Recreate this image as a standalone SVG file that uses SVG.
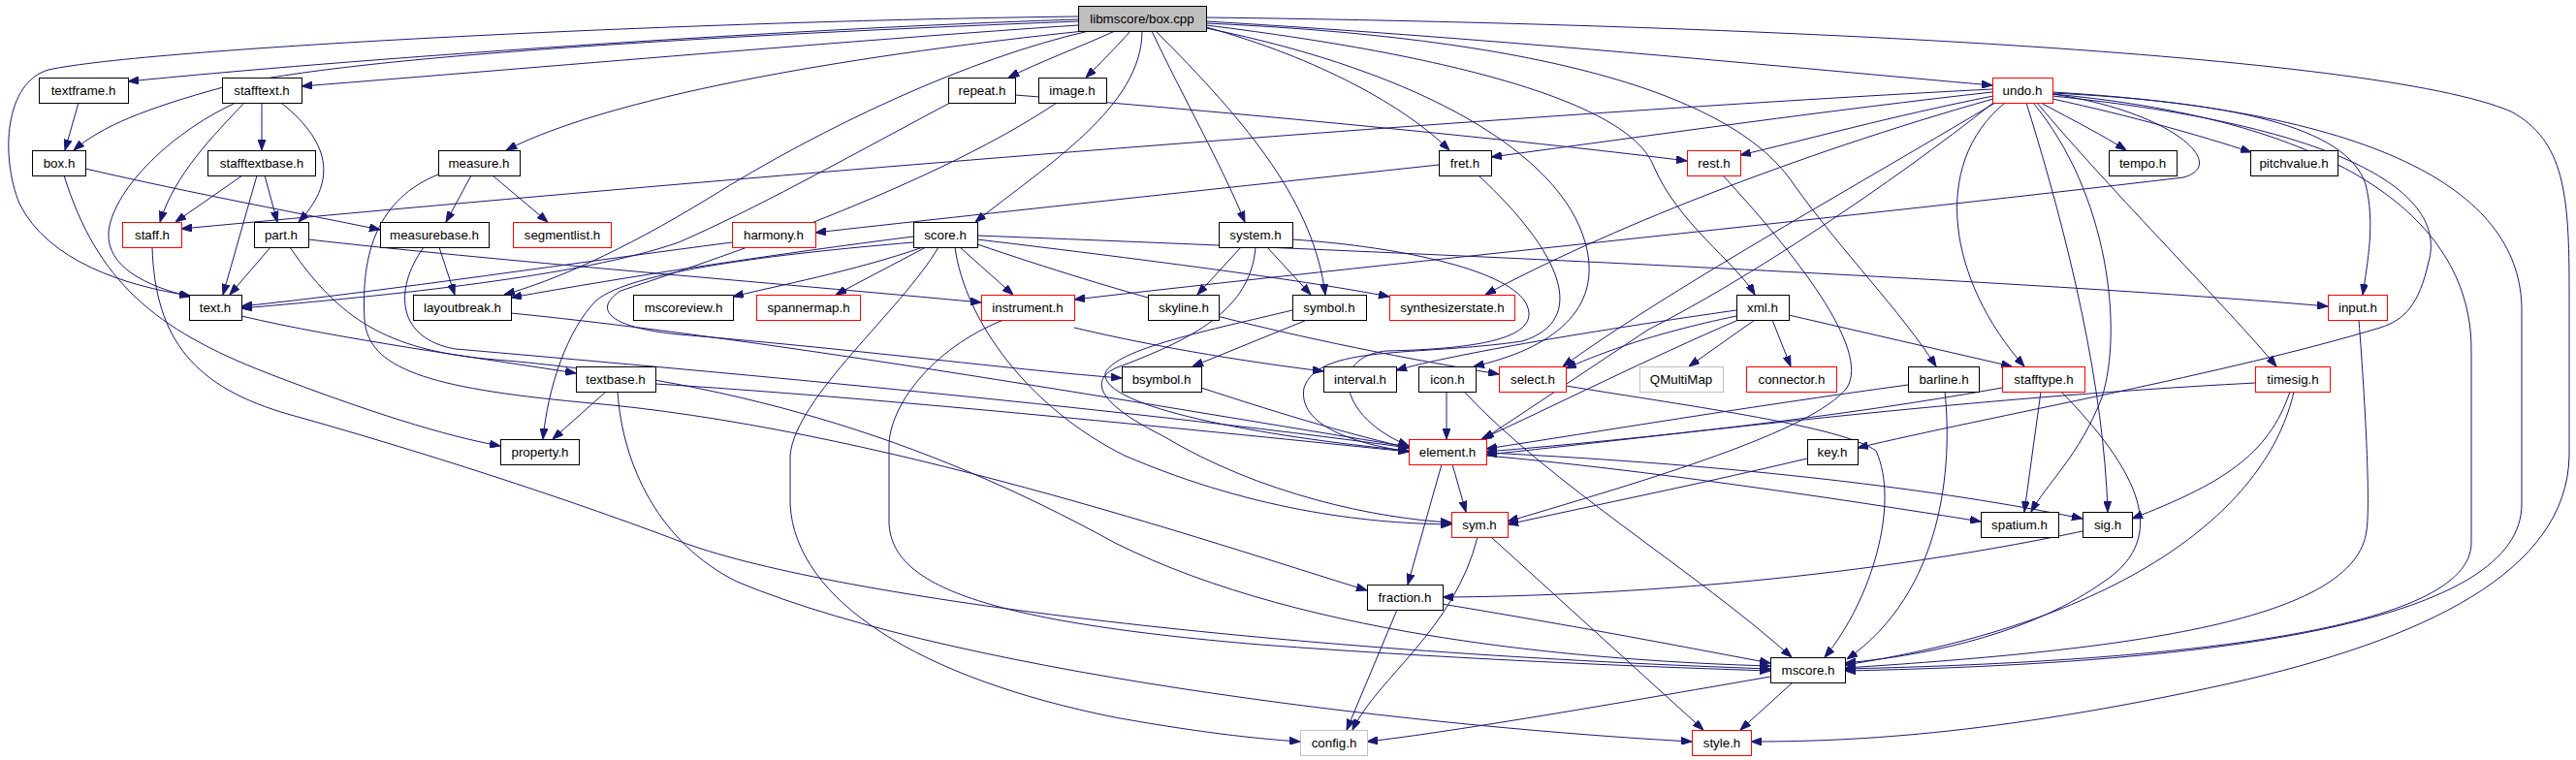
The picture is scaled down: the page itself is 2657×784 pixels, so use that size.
<svg xmlns="http://www.w3.org/2000/svg" width="2657" height="784" viewBox="0 0 2657 784">
<style>
.n rect{fill:#fff;stroke:#000;stroke-width:1}
.n.r rect{stroke:#ff0000}
.n.g rect{stroke:#bfbfbf}
.n.root rect{fill:#bfbfbf}
.n text{font-family:"Liberation Sans",Arial,sans-serif;font-size:13.33px;text-anchor:middle;fill:#000}
#edges path{fill:none;stroke:#191970;stroke-width:1;marker-end:url(#a)}
</style>
<defs>
<marker id="a" viewBox="0 0 11 8" refX="11" refY="4" markerWidth="11" markerHeight="8" markerUnits="userSpaceOnUse" orient="auto">
<path d="M0,0 L11,4 L0,8 z" fill="#191970" stroke="#191970"/>
</marker>
</defs>
<rect width="2657" height="784" fill="#fff"/>
<g id="edges">
<path d="M1112,17 C700,22 150,50 50,72 C5,85 0,160 20,210 C50,270 130,295 196,305"/>
<path d="M1112,20 C800,30 350,62 132,84"/>
<path d="M1112,22 C700,38 350,60 230,90 C150,112 105,130 76,155"/>
<path d="M1112,26 C900,40 550,70 311,89"/>
<path d="M1118,32 C900,55 640,95 522,155"/>
<path d="M1123,32 C1000,60 850,130 730,205 C640,260 570,290 520,304"/>
<path d="M1150,32 C1110,50 1070,65 1040,80"/>
<path d="M1166,32 C1150,50 1135,65 1120,80"/>
<path d="M1178,32 C1178,110 1080,170 1006,229"/>
<path d="M1188,32 C1220,100 1260,170 1284,229"/>
<path d="M1192,32 C1290,130 1355,210 1367,304"/>
<path d="M1244,28 C1360,60 1450,110 1495,155"/>
<path d="M1244,26 C1520,60 1680,110 1705,170 C1730,230 1790,270 1810,304"/>
<path d="M1244,29 C1470,75 1610,160 1635,250 C1655,320 1600,360 1520,378"/>
<path d="M1244,24 C1600,40 1790,100 1850,190 C1900,260 1960,320 1997,378"/>
<path d="M1244,22 C1550,40 1850,70 2055,88"/>
<path d="M1244,18 C1800,25 2450,55 2590,115 C2645,145 2650,200 2650,300 L2650,470 C2648,590 2500,660 2300,705 C2050,760 1900,765 1806,765"/>
<path d="M2055,95 C1900,112 1700,140 1538,162"/>
<path d="M2056,99 C1950,120 1860,145 1795,160"/>
<path d="M2055,92 C1700,110 1000,160 187,236"/>
<path d="M2105,106 C2140,125 2170,140 2193,155"/>
<path d="M2117,102 C2200,120 2270,140 2322,157"/>
<path d="M2056,102 C1850,160 1650,240 1532,304"/>
<path d="M2058,106 C1900,200 1720,300 1612,378"/>
<path d="M2117,97 C2240,115 2300,170 2252,183 C1900,225 1400,275 1108,309"/>
<path d="M2068,106 C1990,170 2010,290 2088,378"/>
<path d="M2090,106 C2135,250 2170,400 2174,528"/>
<path d="M2097,106 C2175,200 2190,340 2168,410 C2145,470 2110,500 2095,528"/>
<path d="M2101,106 C2180,200 2300,320 2348,378"/>
<path d="M2117,96 C2300,105 2420,130 2440,190 C2450,230 2442,270 2437,304"/>
<path d="M2117,99 C2420,130 2525,200 2505,270 C2495,315 2480,330 2455,338 C2300,385 2050,430 1916,462"/>
<path d="M2117,97 C2420,125 2549,230 2549,360 L2549,560 C2549,650 2250,682 1903,690"/>
<path d="M2117,95 C2460,115 2601,200 2601,320 L2601,520 C2601,640 2300,684 1903,692"/>
<path d="M2056,106 C1950,190 1800,290 1700,340 C1640,380 1580,420 1530,453"/>
<path d="M81,106 L67,155"/>
<path d="M270,106 L270,155"/>
<path d="M252,106 C220,140 180,180 165,229"/>
<path d="M243,106 C170,140 115,200 112,240 C110,275 150,295 196,306"/>
<path d="M290,106 C345,150 345,190 308,229"/>
<path d="M250,181 L181,229"/>
<path d="M273,181 L286,229"/>
<path d="M265,181 L230,304"/>
<path d="M88,174 C200,200 320,222 392,237"/>
<path d="M66,181 C100,290 160,340 276,385 C380,425 460,450 516,460"/>
<path d="M486,181 L460,229"/>
<path d="M508,181 L565,229"/>
<path d="M452,180 C390,205 372,260 376,330 C380,380 440,400 600,415 C900,440 1250,560 1410,609"/>
<path d="M1484,170 C1300,190 1000,222 841,240"/>
<path d="M1525,181 C1610,260 1640,330 1570,352 C1460,368 1360,355 1345,400 C1338,440 1400,458 1453,466"/>
<path d="M1777,181 C1850,260 1930,360 1905,400 C1870,445 1700,495 1555,538"/>
<path d="M1047,98 C1300,118 1600,148 1740,166"/>
<path d="M980,106 C860,170 780,215 700,250 C600,285 400,305 249,318"/>
<path d="M157,255 C160,350 200,400 300,428 C450,470 600,520 700,558 C850,615 1300,672 1826,690"/>
<path d="M279,255 L237,304"/>
<path d="M318,247 C500,268 800,292 1012,312"/>
<path d="M299,255 C350,330 400,360 500,370 C750,390 950,450 1150,560 C1350,660 1650,682 1826,687"/>
<path d="M453,255 L469,304"/>
<path d="M437,255 C405,300 410,350 470,360 C700,380 1150,420 1453,462"/>
<path d="M755,250 C600,270 400,300 249,316"/>
<path d="M952,255 C880,280 800,295 756,306"/>
<path d="M955,255 L862,304"/>
<path d="M990,255 L1045,304"/>
<path d="M1008,247 C1200,270 1350,290 1433,306"/>
<path d="M1008,252 C1150,300 1300,345 1546,386"/>
<path d="M1008,243 C1500,262 2100,290 2401,316"/>
<path d="M942,244 C800,262 650,285 527,307"/>
<path d="M942,250 C800,262 650,280 615,310 C585,340 565,400 560,453"/>
<path d="M985,255 C995,330 1060,420 1160,470 C1300,530 1420,540 1497,541"/>
<path d="M968,255 C930,320 820,410 815,470 L815,520 C820,620 950,700 1150,740 C1250,758 1310,763 1341,765"/>
<path d="M1090,106 C950,200 700,280 640,300 C610,320 630,338 700,345 C900,362 1050,382 1157,390"/>
<path d="M1280,255 L1235,304"/>
<path d="M1307,255 L1352,304"/>
<path d="M1295,255 C1290,320 1230,350 1150,380 C1120,395 1140,420 1200,450 C1300,510 1420,535 1497,539"/>
<path d="M1333,247 C1450,255 1560,280 1575,315 C1590,350 1520,360 1430,362 C1370,368 1380,430 1453,460"/>
<path d="M249,326 C350,350 500,370 594,385"/>
<path d="M625,404 L570,453"/>
<path d="M676,396 C900,410 1200,440 1453,466"/>
<path d="M637,404 C642,480 680,560 760,600 C1000,700 1500,752 1745,765"/>
<path d="M1108,338 C1200,360 1300,375 1365,383"/>
<path d="M1035,330 C960,360 917,420 917,460 L917,540 C920,600 1000,640 1300,665 C1500,680 1700,688 1826,692"/>
<path d="M1348,330 L1230,378"/>
<path d="M1333,320 C1250,340 1150,360 1140,385 C1135,420 1300,450 1453,465"/>
<path d="M1239,400 C1330,430 1400,450 1453,462"/>
<path d="M527,323 C800,350 1200,420 1453,461"/>
<path d="M1791,320 C1650,340 1500,365 1440,382"/>
<path d="M1791,326 C1700,345 1650,365 1615,380"/>
<path d="M1810,330 L1742,378"/>
<path d="M1828,330 L1847,378"/>
<path d="M1845,325 L2075,378"/>
<path d="M1793,330 C1700,370 1600,420 1528,453"/>
<path d="M1492,404 L1492,453"/>
<path d="M1510,404 C1600,500 1750,590 1848,678"/>
<path d="M1615,398 C1750,420 1900,440 1935,465 C1960,520 1930,620 1882,678"/>
<path d="M1968,397 C1800,420 1650,445 1533,463"/>
<path d="M2006,404 C2014,480 2005,610 1905,680"/>
<path d="M2065,400 C1900,430 1700,452 1533,466"/>
<path d="M2105,404 L2088,528"/>
<path d="M2126,404 C2220,500 2230,560 2170,600 C2100,650 2000,675 1903,684"/>
<path d="M2326,395 C2000,412 1700,452 1533,469"/>
<path d="M2362,404 C2340,470 2290,500 2199,535"/>
<path d="M2366,404 C2340,520 2200,640 1903,686"/>
<path d="M2433,330 C2440,420 2445,520 2441,547 C2430,640 2200,670 1903,689"/>
<path d="M1498,479 L1512,528"/>
<path d="M1487,479 L1452,603"/>
<path d="M1533,470 C1700,485 1900,515 2043,538"/>
<path d="M1533,467 C1800,480 2000,505 2148,535"/>
<path d="M1864,473 C1750,500 1650,520 1555,541"/>
<path d="M1524,554 C1500,650 1420,700 1395,753"/>
<path d="M1538,554 L1757,753"/>
<path d="M2148,548 C1900,600 1650,615 1488,616"/>
<path d="M1441,629 L1389,753"/>
<path d="M1487,623 C1650,650 1750,670 1826,684"/>
<path d="M1826,698 C1700,720 1500,755 1410,765"/>
<path d="M1849,704 L1795,753"/>
</g>
<g id="n-boxcpp" class="n root"><rect x="1112.5" y="6.5" width="132" height="26"/><text x="1178" y="24">libmscore/box.cpp</text></g>
<g id="n-textframe" class="n"><rect x="40.5" y="80.5" width="92" height="26"/><text x="86" y="98">textframe.h</text></g>
<g id="n-stafftext" class="n"><rect x="229.5" y="80.5" width="82" height="26"/><text x="270" y="98">stafftext.h</text></g>
<g id="n-repeat" class="n"><rect x="978.5" y="80.5" width="69" height="26"/><text x="1013" y="98">repeat.h</text></g>
<g id="n-image" class="n"><rect x="1071.5" y="80.5" width="70" height="26"/><text x="1106" y="98">image.h</text></g>
<g id="n-undo" class="n r"><rect x="2055.5" y="80.5" width="62" height="26"/><text x="2086" y="98">undo.h</text></g>
<g id="n-box" class="n"><rect x="33.5" y="155.5" width="55" height="26"/><text x="61" y="173">box.h</text></g>
<g id="n-stafftextbase" class="n"><rect x="214.5" y="155.5" width="111" height="26"/><text x="270" y="173">stafftextbase.h</text></g>
<g id="n-measure" class="n"><rect x="452.5" y="155.5" width="84" height="26"/><text x="494" y="173">measure.h</text></g>
<g id="n-fret" class="n"><rect x="1484.5" y="155.5" width="54" height="26"/><text x="1511" y="173">fret.h</text></g>
<g id="n-rest" class="n r"><rect x="1740.5" y="155.5" width="55" height="26"/><text x="1768" y="173">rest.h</text></g>
<g id="n-tempo" class="n"><rect x="2175.5" y="155.5" width="70" height="26"/><text x="2210" y="173">tempo.h</text></g>
<g id="n-pitchvalue" class="n"><rect x="2321.5" y="155.5" width="90" height="26"/><text x="2366" y="173">pitchvalue.h</text></g>
<g id="n-staff" class="n r"><rect x="126.5" y="229.5" width="61" height="26"/><text x="157" y="247">staff.h</text></g>
<g id="n-part" class="n"><rect x="262.5" y="229.5" width="56" height="26"/><text x="290" y="247">part.h</text></g>
<g id="n-measurebase" class="n"><rect x="392.5" y="229.5" width="112" height="26"/><text x="448" y="247">measurebase.h</text></g>
<g id="n-segmentlist" class="n r"><rect x="529.5" y="229.5" width="101" height="26"/><text x="580" y="247">segmentlist.h</text></g>
<g id="n-harmony" class="n r"><rect x="755.5" y="229.5" width="86" height="26"/><text x="798" y="247">harmony.h</text></g>
<g id="n-score" class="n"><rect x="942.5" y="229.5" width="66" height="26"/><text x="975" y="247">score.h</text></g>
<g id="n-system" class="n"><rect x="1257.5" y="229.5" width="76" height="26"/><text x="1295" y="247">system.h</text></g>
<g id="n-text" class="n"><rect x="195.5" y="304.5" width="54" height="26"/><text x="222" y="322">text.h</text></g>
<g id="n-layoutbreak" class="n"><rect x="426.5" y="304.5" width="101" height="26"/><text x="477" y="322">layoutbreak.h</text></g>
<g id="n-mscoreview" class="n"><rect x="653.5" y="304.5" width="103" height="26"/><text x="705" y="322">mscoreview.h</text></g>
<g id="n-spannermap" class="n r"><rect x="780.5" y="304.5" width="107" height="26"/><text x="834" y="322">spannermap.h</text></g>
<g id="n-instrument" class="n r"><rect x="1012.5" y="304.5" width="96" height="26"/><text x="1060" y="322">instrument.h</text></g>
<g id="n-skyline" class="n"><rect x="1184.5" y="304.5" width="73" height="26"/><text x="1221" y="322">skyline.h</text></g>
<g id="n-symbol" class="n"><rect x="1333.5" y="304.5" width="76" height="26"/><text x="1371" y="322">symbol.h</text></g>
<g id="n-synthesizerstate" class="n r"><rect x="1433.5" y="304.5" width="129" height="26"/><text x="1498" y="322">synthesizerstate.h</text></g>
<g id="n-xml" class="n"><rect x="1791.5" y="304.5" width="54" height="26"/><text x="1818" y="322">xml.h</text></g>
<g id="n-input" class="n r"><rect x="2401.5" y="304.5" width="61" height="26"/><text x="2432" y="322">input.h</text></g>
<g id="n-textbase" class="n"><rect x="594.5" y="378.5" width="82" height="26"/><text x="635" y="396">textbase.h</text></g>
<g id="n-bsymbol" class="n"><rect x="1157.5" y="378.5" width="82" height="26"/><text x="1198" y="396">bsymbol.h</text></g>
<g id="n-interval" class="n"><rect x="1365.5" y="378.5" width="75" height="26"/><text x="1403" y="396">interval.h</text></g>
<g id="n-icon" class="n"><rect x="1463.5" y="378.5" width="59" height="26"/><text x="1493" y="396">icon.h</text></g>
<g id="n-select" class="n r"><rect x="1546.5" y="378.5" width="69" height="26"/><text x="1581" y="396">select.h</text></g>
<g id="n-qmultimap" class="n g"><rect x="1691.5" y="378.5" width="86" height="26"/><text x="1734" y="396">QMultiMap</text></g>
<g id="n-connector" class="n r"><rect x="1801.5" y="378.5" width="93" height="26"/><text x="1848" y="396">connector.h</text></g>
<g id="n-barline" class="n"><rect x="1968.5" y="378.5" width="73" height="26"/><text x="2005" y="396">barline.h</text></g>
<g id="n-stafftype" class="n r"><rect x="2065.5" y="378.5" width="85" height="26"/><text x="2108" y="396">stafftype.h</text></g>
<g id="n-timesig" class="n r"><rect x="2326.5" y="378.5" width="77" height="26"/><text x="2365" y="396">timesig.h</text></g>
<g id="n-property" class="n"><rect x="516.5" y="453.5" width="81" height="26"/><text x="557" y="471">property.h</text></g>
<g id="n-element" class="n r"><rect x="1453.5" y="453.5" width="80" height="26"/><text x="1493" y="471">element.h</text></g>
<g id="n-key" class="n"><rect x="1864.5" y="453.5" width="52" height="26"/><text x="1890" y="471">key.h</text></g>
<g id="n-sym" class="n r"><rect x="1497.5" y="528.5" width="58" height="26"/><text x="1526" y="546">sym.h</text></g>
<g id="n-spatium" class="n"><rect x="2043.5" y="528.5" width="80" height="26"/><text x="2083" y="546">spatium.h</text></g>
<g id="n-sig" class="n"><rect x="2148.5" y="528.5" width="51" height="26"/><text x="2174" y="546">sig.h</text></g>
<g id="n-fraction" class="n"><rect x="1410.5" y="603.5" width="78" height="26"/><text x="1449" y="621">fraction.h</text></g>
<g id="n-mscore" class="n"><rect x="1826.5" y="678.5" width="77" height="26"/><text x="1865" y="696">mscore.h</text></g>
<g id="n-config" class="n g"><rect x="1341.5" y="753.5" width="69" height="26"/><text x="1376" y="771">config.h</text></g>
<g id="n-style" class="n r"><rect x="1745.5" y="753.5" width="61" height="26"/><text x="1776" y="771">style.h</text></g>
</svg>
